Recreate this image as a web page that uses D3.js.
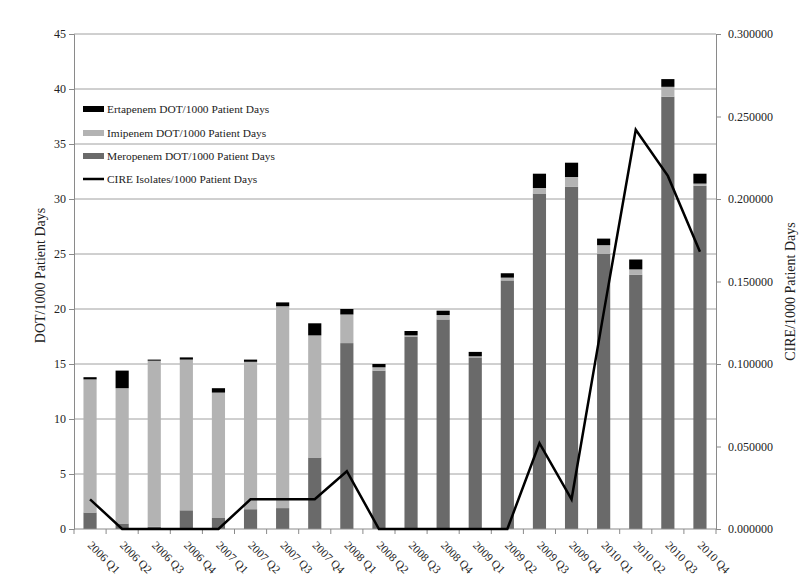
<!DOCTYPE html>
<html>
<head>
<meta charset="utf-8">
<script src="https://cdn.jsdelivr.net/npm/d3@7"></script>
<style>
  body { margin: 0; background: #fff; }
  svg { display: block; }
  text { font-family: "Liberation Serif", "Times New Roman", serif; fill: #222; }
</style>
</head>
<body>
<div id="chart"></div>
<script>
const quarters = ["2006 Q1","2006 Q2","2006 Q3","2006 Q4","2007 Q1","2007 Q2","2007 Q3","2007 Q4",
  "2008 Q1","2008 Q2","2008 Q3","2008 Q4","2009 Q1","2009 Q2","2009 Q3","2009 Q4",
  "2010 Q1","2010 Q2","2010 Q3","2010 Q4"];
const meropenem = [1.5,0.5,0.2,1.7,1.0,1.8,1.9,6.5,16.9,14.4,17.5,19.05,15.6,22.6,30.5,31.1,25.0,23.1,39.3,31.2];
const imipenem  = [12.1,12.3,15.1,13.7,11.4,13.4,18.35,11.1,2.6,0.3,0.1,0.4,0.1,0.25,0.5,0.9,0.8,0.5,0.9,0.2];
const ertapenem = [0.2,1.6,0.1,0.2,0.4,0.2,0.35,1.1,0.5,0.3,0.4,0.4,0.4,0.4,1.3,1.3,0.6,0.9,0.7,0.9];
const cire = [0.018,0,0,0,0,0.018,0.018,0.018,0.035,0,0,0,0,0,0.052,0.018,0.131,0.242,0.214,0.168];
const leftTicks = [0,5,10,15,20,25,30,35,40,45];
const rightTicks = [0,0.05,0.10,0.15,0.20,0.25,0.30];
const seriesNames = ["Ertapenem DOT/1000 Patient Days","Imipenem DOT/1000 Patient Days",
  "Meropenem DOT/1000 Patient Days","CIRE Isolates/1000 Patient Days"];

const W = 811, H = 576;
const m = {left: 74, right: 95, top: 34, bottom: 47};
const svg = d3.select("#chart").append("svg").attr("width", W).attr("height", H);

const x = d3.scaleBand().domain(quarters).range([m.left, W - m.right]).padding(0);
const y = d3.scaleLinear().domain([0,45]).range([H - m.bottom, m.top]);
const y2 = d3.scaleLinear().domain([0,0.3]).range([H - m.bottom, m.top]);

const colors = {mero: "#6a6a6a", imi: "#b3b3b3", ert: "#000000"};
const gridColor = "#a0a0a0", axisColor = "#8a8a8a";

// gridlines
svg.append("g").selectAll("line").data(leftTicks.filter(d => d > 0)).join("line")
  .attr("x1", m.left).attr("x2", W - m.right)
  .attr("y1", d => y(d)).attr("y2", d => y(d))
  .attr("stroke", gridColor).attr("stroke-width", 1);

// stacked bars
const rows = quarters.map((q,i) => ({q, mero: meropenem[i], imi: imipenem[i], ert: ertapenem[i]}));
const stack = d3.stack().keys(["mero","imi","ert"])(rows);
const barW = x.bandwidth() * 0.41;
svg.append("g").selectAll("g").data(stack).join("g")
  .attr("fill", d => colors[d.key])
  .selectAll("rect").data(d => d).join("rect")
  .attr("x", d => x(d.data.q) + (x.bandwidth() - barW) / 2)
  .attr("width", barW)
  .attr("y", d => y(d[1]))
  .attr("height", d => Math.max(0, y(d[0]) - y(d[1])));

// left axis
const gl = svg.append("g").attr("transform", `translate(${m.left},0)`)
  .call(d3.axisLeft(y).tickValues(leftTicks).tickSize(5).tickPadding(3).tickFormat(d3.format("d")));
gl.select(".domain").attr("stroke", axisColor);
gl.selectAll(".tick line").attr("stroke", axisColor);
gl.selectAll(".tick text").attr("font-size", 12).attr("font-family", "Liberation Serif").attr("fill", "#222");

// right axis
const gr = svg.append("g").attr("transform", `translate(${W - m.right},0)`)
  .call(d3.axisRight(y2).tickValues(rightTicks).tickSize(5).tickPadding(7).tickFormat(d3.format(".6f")));
gr.select(".domain").attr("stroke", axisColor);
gr.selectAll(".tick line").attr("stroke", axisColor);
gr.selectAll(".tick text").attr("font-size", 12).attr("font-family", "Liberation Serif").attr("fill", "#222");

// bottom axis: ticks at category boundaries
const gb = svg.append("g");
gb.append("line").attr("x1", m.left).attr("x2", W - m.right)
  .attr("y1", y(0)).attr("y2", y(0)).attr("stroke", axisColor);
const bounds = quarters.map(q => x(q)).concat([x(quarters[quarters.length-1]) + x.bandwidth()]);
gb.selectAll("line.tk").data(bounds).join("line").attr("class","tk")
  .attr("x1", d => d).attr("x2", d => d)
  .attr("y1", y(0)).attr("y2", y(0) + 5).attr("stroke", axisColor);
gb.selectAll("text").data(quarters).join("text")
  .attr("transform", d => `translate(${x(d) + x.bandwidth()/2 - 3},${y(0) + 17}) rotate(45)`)
  .attr("font-size", 11.5).text(d => d);

// CIRE line
const line = d3.line().x((d,i) => x(quarters[i]) + x.bandwidth()/2).y(d => y2(d));
svg.append("path").datum(cire).attr("d", line)
  .attr("fill", "none").attr("stroke", "#000").attr("stroke-width", 2.5)
  .attr("stroke-linejoin", "miter");

// axis titles
svg.append("text").attr("transform", `translate(45,${(m.top + H - m.bottom)/2 - 6}) rotate(-90)`)
  .attr("text-anchor", "middle").attr("font-size", 14).text("DOT/1000 Patient Days");
svg.append("text").attr("transform", `translate(795,${(m.top + H - m.bottom)/2 + 10}) rotate(-90)`)
  .attr("text-anchor", "middle").attr("font-size", 14).text("CIRE/1000 Patient Days");

// legend
const legend = svg.append("g");
const legY = [109, 133, 156, 179];
const legFill = [colors.ert, colors.imi, colors.mero, null];
seriesNames.forEach((name, i) => {
  if (legFill[i]) {
    legend.append("rect").attr("x", 83).attr("y", legY[i] - 3).attr("width", 21).attr("height", 6)
      .attr("fill", legFill[i]);
  } else {
    legend.append("line").attr("x1", 83).attr("x2", 104).attr("y1", legY[i]).attr("y2", legY[i])
      .attr("stroke", "#000").attr("stroke-width", 2.5);
  }
  legend.append("text").attr("x", 107).attr("y", legY[i] + 4).attr("font-size", 11.4).text(name);
});
</script>
</body>
</html>
